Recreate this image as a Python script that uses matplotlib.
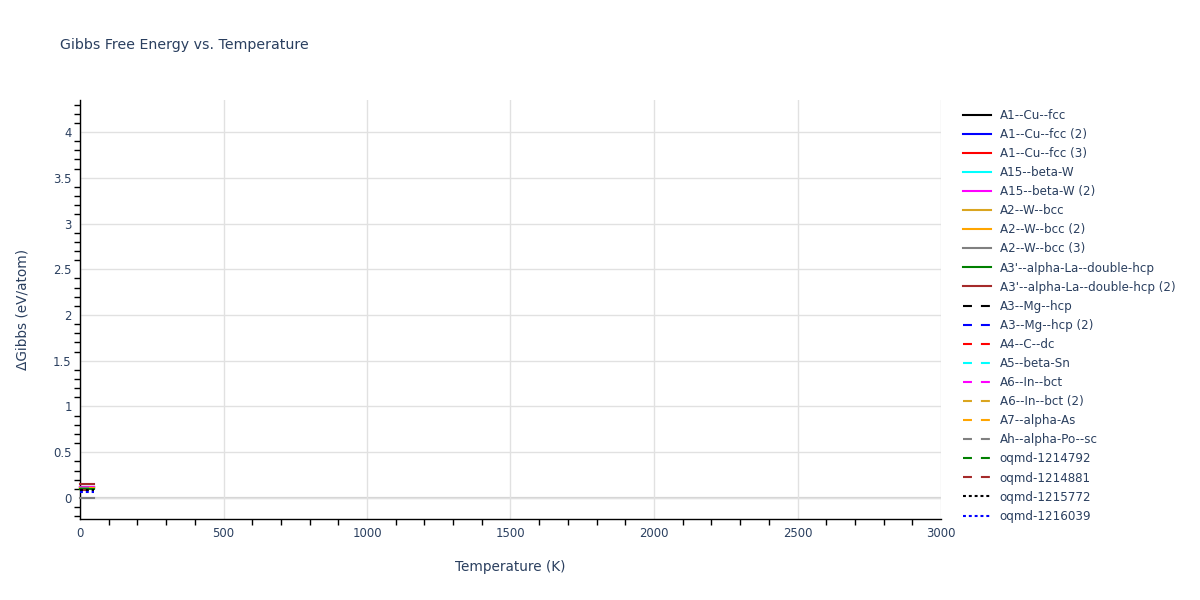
import matplotlib

matplotlib.use("Agg")
import matplotlib.pyplot as plt
from matplotlib.ticker import MultipleLocator, NullFormatter

plt.rcParams["font.family"] = ["DejaVu Sans"]

TEXT_COLOR = "#2a3f5f"
GRID_COLOR = "#e1e1e1"

# temperature points of every series (K)
TEMPS = [0, 25, 50]

LABELS = [
    "A1--Cu--fcc", "A1--Cu--fcc (2)", "A1--Cu--fcc (3)",
    "A15--beta-W", "A15--beta-W (2)",
    "A2--W--bcc", "A2--W--bcc (2)", "A2--W--bcc (3)",
    "A3'--alpha-La--double-hcp", "A3'--alpha-La--double-hcp (2)",
    "A3--Mg--hcp", "A3--Mg--hcp (2)", "A4--C--dc", "A5--beta-Sn",
    "A6--In--bct", "A6--In--bct (2)", "A7--alpha-As", "Ah--alpha-Po--sc",
    "oqmd-1214792", "oqmd-1214881", "oqmd-1215772", "oqmd-1216039",
]

# ΔGibbs (eV/atom)
DGIBBS = [
    [0.112, 0.112, 0.112],
    [0.115, 0.115, 0.115],
    [0.118, 0.118, 0.118],
    [0.120, 0.120, 0.120],
    [0.116, 0.116, 0.116],
    [0.105, 0.105, 0.105],
    [0.108, 0.108, 0.108],
    [0.000, 0.000, 0.000],
    [0.098, 0.098, 0.098],
    [0.156, 0.156, 0.156],
    [0.100, 0.100, 0.100],
    [0.110, 0.110, 0.110],
    [0.103, 0.103, 0.103],
    [0.110, 0.110, 0.110],
    [0.109, 0.109, 0.109],
    [0.107, 0.107, 0.107],
    [0.106, 0.106, 0.106],
    [0.104, 0.104, 0.104],
    [0.097, 0.097, 0.097],
    [0.090, 0.090, 0.090],
    [0.087, 0.087, 0.087],
    [0.063, 0.063, 0.063],
]

PALETTE = ["black", "blue", "red", "cyan", "magenta",
           "goldenrod", "orange", "gray", "green", "brown"]

fig = plt.figure(figsize=(12, 6), dpi=100)
ax = fig.add_axes([80 / 1200, 1 - 519 / 600, 861 / 1200, 419 / 600])

for i, (label, ys) in enumerate(zip(LABELS, DGIBBS)):
    color = PALETTE[i % len(PALETTE)]
    if i < 10:
        ls = "-"
    elif i < 20:
        ls = (0, (4.3, 4.3))
    else:
        ls = (0, (1.4, 1.4))
        color = PALETTE[i - 20]
    ax.plot(TEMPS, ys, color=color, lw=1.5, linestyle=ls, label=label,
            zorder=3, clip_on=False)

ax.set_xlim(0, 3000)
ax.set_ylim(-0.23, 4.35)

ax.xaxis.set_major_locator(MultipleLocator(500))
ax.xaxis.set_minor_locator(MultipleLocator(100))
ax.yaxis.set_major_locator(MultipleLocator(0.5))
ax.yaxis.set_minor_locator(MultipleLocator(0.1))
ax.yaxis.set_major_formatter(plt.FuncFormatter(lambda v, p: f"{v:g}"))
ax.xaxis.set_minor_formatter(NullFormatter())

ax.grid(True, which="major", color=GRID_COLOR, lw=1, zorder=0)
ax.axhline(0, color="#d4d4d4", lw=1.6, zorder=1)
ax.tick_params(which="major", length=0, pad=6, labelsize=8.4,
               labelcolor=TEXT_COLOR)
ax.tick_params(which="minor", length=4.5, width=1, color="black",
               direction="out")

for side in ["top", "right"]:
    ax.spines[side].set_visible(False)
for side in ["left", "bottom"]:
    ax.spines[side].set_color("black")
    ax.spines[side].set_linewidth(1)

ax.set_xlabel("Temperature (K)", fontsize=9.8, color=TEXT_COLOR, labelpad=14)
ax.set_ylabel("ΔGibbs (eV/atom)", fontsize=9.8, color=TEXT_COLOR, labelpad=17)

fig.text(60 / 1200, 1 - 45 / 600, "Gibbs Free Energy vs. Temperature",
         fontsize=10.2, color=TEXT_COLOR, va="center", ha="left")

leg = fig.legend(loc="upper left", bbox_to_anchor=(958 / 1200, 1 - 104 / 600),
                 frameon=False, fontsize=8.6, handlelength=2.4,
                 handletextpad=0.7, labelspacing=0.51, borderaxespad=0)
for t in leg.get_texts():
    t.set_color(TEXT_COLOR)

fig.savefig("out.png", dpi=100)
